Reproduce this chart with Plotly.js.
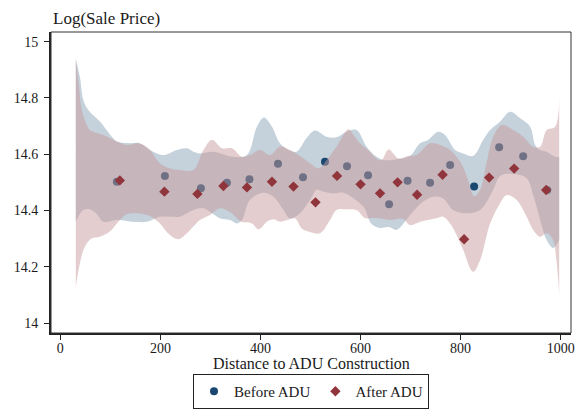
<!DOCTYPE html>
<html>
<head>
<meta charset="utf-8">
<script src="https://cdn.plot.ly/plotly-3.0.1.min.js"></script>
<style>
  html, body { margin: 0; padding: 0; background: #fff; }
  #chart { width: 584px; height: 410px; }
</style>
</head>
<body>
<div id="chart"></div>
<script>
// Binned means of log sale price by distance to ADU construction
const beforeX = [113, 209, 281, 333, 378, 435, 485, 529, 573, 615, 657, 694, 739, 779, 827, 877, 925, 973];
const beforeY = [14.502, 14.523, 14.479, 14.499, 14.511, 14.566, 14.518, 14.573, 14.557, 14.525, 14.422, 14.506, 14.499, 14.562, 14.485, 14.625, 14.593, 14.473];

const afterX = [119, 208, 274, 326, 373, 423, 466, 510, 553, 600, 639, 674, 713, 764, 807, 857, 907, 971];
const afterY = [14.507, 14.467, 14.459, 14.487, 14.482, 14.502, 14.485, 14.429, 14.523, 14.493, 14.461, 14.500, 14.456, 14.527, 14.298, 14.517, 14.549, 14.473];

// Smoothed confidence band, before ADU
const beforeUpperX = [31, 39, 46, 56, 79, 103, 113, 139, 159, 179, 206, 233, 253, 266, 279, 306, 346, 373, 393, 407, 423, 439, 456, 472, 492, 509, 532, 552, 572, 592, 612, 632, 649, 675, 699, 719, 735, 755, 769, 789, 805, 825, 845, 859, 879, 899, 919, 939, 949, 959, 972, 989, 997];
const beforeUpperY = [14.938, 14.876, 14.793, 14.757, 14.716, 14.662, 14.645, 14.639, 14.639, 14.615, 14.597, 14.615, 14.621, 14.609, 14.603, 14.609, 14.591, 14.597, 14.698, 14.731, 14.698, 14.639, 14.615, 14.609, 14.657, 14.684, 14.662, 14.660, 14.680, 14.686, 14.627, 14.591, 14.579, 14.583, 14.594, 14.639, 14.651, 14.680, 14.668, 14.615, 14.603, 14.594, 14.651, 14.686, 14.716, 14.751, 14.728, 14.698, 14.633, 14.615, 14.609, 14.591, 14.590];
const beforeLowerX = [31, 46, 59, 73, 86, 113, 133, 153, 173, 186, 199, 226, 239, 266, 286, 303, 319, 339, 353, 363, 379, 406, 426, 446, 459, 479, 499, 512, 526, 546, 566, 586, 606, 622, 639, 656, 672, 685, 705, 725, 745, 765, 785, 812, 839, 865, 879, 905, 932, 945, 959, 972, 985, 997];
const beforeLowerY = [14.360, 14.402, 14.404, 14.387, 14.360, 14.366, 14.363, 14.359, 14.360, 14.369, 14.378, 14.378, 14.378, 14.402, 14.408, 14.391, 14.372, 14.366, 14.354, 14.366, 14.437, 14.463, 14.449, 14.402, 14.372, 14.390, 14.437, 14.473, 14.467, 14.461, 14.463, 14.443, 14.413, 14.352, 14.338, 14.341, 14.331, 14.352, 14.396, 14.431, 14.449, 14.443, 14.402, 14.390, 14.402, 14.473, 14.523, 14.530, 14.515, 14.455, 14.366, 14.295, 14.267, 14.295];

// Smoothed confidence band, after ADU
const afterUpperX = [31, 37, 43, 53, 59, 86, 113, 133, 156, 176, 199, 219, 239, 266, 286, 303, 323, 343, 363, 379, 399, 419, 439, 459, 476, 499, 516, 532, 552, 576, 586, 599, 619, 632, 642, 656, 676, 695, 712, 739, 759, 779, 789, 803, 815, 827, 839, 851, 865, 882, 905, 925, 945, 959, 972, 989, 997];
const afterUpperY = [14.938, 14.846, 14.757, 14.704, 14.686, 14.668, 14.645, 14.633, 14.639, 14.621, 14.568, 14.550, 14.544, 14.544, 14.615, 14.651, 14.621, 14.621, 14.591, 14.597, 14.615, 14.597, 14.627, 14.615, 14.597, 14.568, 14.550, 14.579, 14.627, 14.689, 14.668, 14.639, 14.609, 14.585, 14.579, 14.617, 14.585, 14.594, 14.597, 14.639, 14.633, 14.615, 14.597, 14.562, 14.508, 14.451, 14.473, 14.562, 14.661, 14.704, 14.686, 14.662, 14.627, 14.627, 14.686, 14.698, 14.822];
const afterLowerX = [31, 39, 49, 63, 79, 99, 119, 133, 159, 179, 191, 199, 219, 236, 253, 265, 279, 299, 319, 339, 363, 383, 396, 413, 426, 439, 453, 469, 482, 496, 519, 539, 552, 572, 592, 609, 623, 639, 659, 685, 699, 719, 735, 752, 765, 779, 792, 805, 825, 839, 859, 879, 892, 912, 932, 945, 959, 972, 985, 991, 997];
const afterLowerY = [14.129, 14.212, 14.271, 14.301, 14.307, 14.325, 14.366, 14.387, 14.389, 14.380, 14.366, 14.354, 14.313, 14.298, 14.319, 14.341, 14.366, 14.384, 14.408, 14.395, 14.359, 14.354, 14.333, 14.360, 14.369, 14.360, 14.366, 14.372, 14.337, 14.325, 14.319, 14.366, 14.402, 14.404, 14.402, 14.373, 14.373, 14.372, 14.366, 14.370, 14.348, 14.360, 14.366, 14.372, 14.378, 14.354, 14.313, 14.260, 14.182, 14.224, 14.354, 14.426, 14.455, 14.437, 14.378, 14.331, 14.307, 14.320, 14.295, 14.230, 14.106];

const yTicks = [14, 14.2, 14.4, 14.6, 14.8, 15];
const yTickText = ['14', '14.2', '14.4', '14.6', '14.8', '15'];
const xTicks = [0, 200, 400, 600, 800, 1000];

const NAVY = '#1a476f';
const MAROON = '#90353b';
const FONT = 'Liberation Serif, Times New Roman, serif';
const INK = '#1a1a1a';

function edge(x, y) {
  return {
    x: x, y: y, mode: 'lines',
    line: { width: 0, shape: 'spline', smoothing: 1 },
    hoverinfo: 'skip', showlegend: false
  };
}

const traces = [
  edge(beforeLowerX, beforeLowerY),
  Object.assign(edge(beforeUpperX, beforeUpperY), { fill: 'tonexty', fillcolor: 'rgba(139,163,183,0.5)' }),
  {
    x: beforeX, y: beforeY, mode: 'markers', name: 'Before ADU',
    marker: { symbol: 'circle', size: 8, color: NAVY }
  },
  edge(afterLowerX, afterLowerY),
  Object.assign(edge(afterUpperX, afterUpperY), { fill: 'tonexty', fillcolor: 'rgba(199,155,157,0.5)' }),
  {
    x: afterX, y: afterY, mode: 'markers', name: 'After ADU',
    marker: { symbol: 'diamond', size: 8, color: MAROON }
  }
];

const layout = {
  width: 584, height: 410,
  margin: { l: 51, r: 13, t: 32, b: 77, autoexpand: false },
  paper_bgcolor: '#ffffff', plot_bgcolor: '#ffffff',
  font: { family: FONT, size: 14, color: INK },
  title: {
    text: 'Log(Sale Price)',
    font: { family: FONT, size: 17, color: INK },
    xref: 'paper', x: 0.004, xanchor: 'left',
    yref: 'container', y: 1 - 18 / 410, yanchor: 'middle'
  },
  xaxis: {
    range: [-18.6, 1020.6],
    tickmode: 'array', tickvals: xTicks,
    ticks: 'outside', ticklen: 5, tickwidth: 1, tickcolor: '#222',
    ticklabelstandoff: -4,
    showline: true, linewidth: 2, linecolor: '#222',
    showgrid: false, zeroline: false,
    tickfont: { family: FONT, size: 14, color: INK }
  },
  yaxis: {
    range: [13.9645, 15.0345],
    tickmode: 'array', tickvals: yTicks, ticktext: yTickText,
    ticks: 'outside', ticklen: 5, tickwidth: 1, tickcolor: '#222',
    ticklabelstandoff: 3,
    showline: true, linewidth: 2, linecolor: '#222',
    showgrid: false, zeroline: false,
    tickfont: { family: FONT, size: 14, color: INK }
  },
  annotations: [{
    text: 'Distance to ADU Construction',
    xref: 'paper', x: 0.5, xanchor: 'center',
    yref: 'paper', y: -31 / 301, yanchor: 'middle',
    showarrow: false, font: { family: FONT, size: 16, color: INK }
  }],
  shapes: [{
    type: 'rect', xref: 'paper', yref: 'paper', x0: 0, x1: 1, y0: 0, y1: 1,
    line: { color: '#333', width: 1 }, fillcolor: 'rgba(0,0,0,0)', layer: 'above'
  }],
  showlegend: true,
  legend: {
    orientation: 'h',
    xref: 'container', x: 311 / 584, xanchor: 'center',
    yref: 'container', y: 1 / 410, yanchor: 'bottom',
    bordercolor: '#222', borderwidth: 1, bgcolor: '#fff',
    font: { family: FONT, size: 15, color: INK },
    traceorder: 'normal'
  }
};

Plotly.newPlot('chart', traces, layout, { displayModeBar: false, staticPlot: true });
</script>
</body>
</html>
